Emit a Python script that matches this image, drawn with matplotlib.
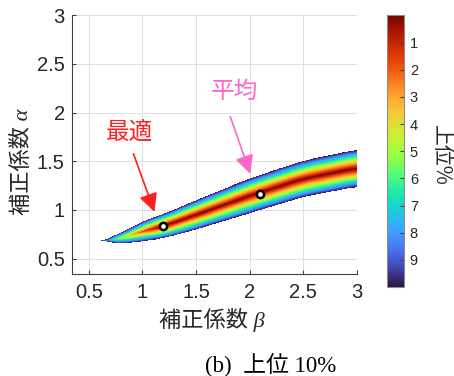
import numpy as np
import matplotlib
matplotlib.use("Agg")
import matplotlib.pyplot as plt

plt.rcParams['font.family'] = ['Liberation Sans', 'Noto Sans CJK JP', 'DejaVu Sans']
JP = ['Noto Sans CJK JP', 'DejaVu Sans']
# kanji fall back to Noto, greek letters come from the serif italic
GREEK = ['Liberation Serif', 'Noto Sans CJK JP']

# ridge of the top-10% region
RIDGE_BETA = [0.66, 0.70, 0.80, 0.90, 1.00, 1.10, 1.20, 1.50, 2.00, 2.50, 3.00]
RIDGE_ALPHA = [0.685, 0.69, 0.71, 0.745, 0.78, 0.81, 0.835, 0.95, 1.145, 1.32, 1.43]
HALF_WIDTH = [0.0, 0.03, 0.055, 0.08, 0.10, 0.115, 0.125, 0.15, 0.178, 0.186, 0.19]
RIDGE_RANK = [9.5, 7.0, 4.5, 3.0, 1.8, 0.6, 0.0, 0.0, 0.0, 0.0, 0.0]

BEST = (1.194, 0.831)
MEAN = (2.098, 1.165)

TICKS = [0.5, 1, 1.5, 2, 2.5, 3]
CBAR_TICKS = [1, 2, 3, 4, 5, 6, 7, 8, 9]
LIM = (0.34, 3.0)

RED = '#ff1f1f'
PINK = '#ff66cc'


def smooth(y, n):
    # moving average so the band edges have no kinks
    pad = np.pad(y, n // 2, mode='edge')
    return np.convolve(pad, np.ones(n) / n, mode='valid')


# rank field over the (beta, alpha) plane
b = np.linspace(0.6, 3.0, 721)
a = np.linspace(0.5, 1.75, 601)
centre = smooth(np.interp(b, RIDGE_BETA, RIDGE_ALPHA), 71)
hw = smooth(np.interp(b, RIDGE_BETA, HALF_WIDTH), 41)
rank = smooth(np.interp(b, RIDGE_BETA, RIDGE_RANK), 41)
B, A = np.meshgrid(b, a)
with np.errstate(divide='ignore', invalid='ignore'):
    v = rank + (10 - rank) * np.abs(A - centre) / hw
v[np.broadcast_to(hw <= 1e-4, v.shape)] = np.nan
v[v > 10] = np.nan
v = np.ma.masked_invalid(v)

fig = plt.figure(figsize=(4.54, 3.76), dpi=100)
ax = fig.add_axes([0.158, 0.2705, 0.628, 0.6895])
mesh = ax.pcolormesh(B, A, v, cmap='turbo_r', vmin=0, vmax=10, shading='auto')

ax.plot(*BEST, 'o', ms=5.2, mfc='white', mec='black', mew=1.8, zorder=5)
ax.plot(*MEAN, 'o', ms=5.2, mfc='white', mec='black', mew=1.8, zorder=5)

ax.set_xlim(*LIM)
ax.set_ylim(*LIM)
ax.set_xticks(TICKS, [f'{t:g}' for t in TICKS])
ax.set_yticks(TICKS, [f'{t:g}' for t in TICKS])
ax.grid(True, color='0.88', lw=0.7)
ax.set_axisbelow(True)
for s in ['top', 'right']:
    ax.spines[s].set_visible(False)
for s in ['left', 'bottom']:
    ax.spines[s].set_color('0.25')
ax.tick_params(direction='in', length=3, width=0.8, color='0.25',
               labelsize=14.5, labelcolor='0.15')
ax.tick_params(axis='x', pad=6)
ax.tick_params(axis='y', pad=5)

ax.set_xlabel('補正係数 β', family=GREEK, style='italic', fontsize=16,
              color='0.15', ha='center', va='center')
ax.xaxis.set_label_coords(0.493, -0.176)
ax.set_ylabel('補正係数 α', family=GREEK, style='italic', fontsize=16,
              color='0.15', ha='center', va='center')
ax.yaxis.set_label_coords(-0.174, 0.433)

ax.text(0.879, 1.791, '最適', family=JP, fontsize=17, color=RED,
        ha='center', va='center')
ax.annotate('', xy=(1.112, 0.98), xytext=(0.916, 1.576),
            arrowprops=dict(arrowstyle='-|>,head_length=0.8,head_width=0.4',
                            mutation_scale=14, lw=1.2, color=RED,
                            shrinkA=0, shrinkB=0))
ax.text(1.861, 2.216, '平均', family=JP, fontsize=17, color=PINK,
        ha='center', va='center')
ax.annotate('', xy=(2.006, 1.371), xytext=(1.819, 1.958),
            arrowprops=dict(arrowstyle='-|>,head_length=0.8,head_width=0.4',
                            mutation_scale=14, lw=1.2, color=PINK,
                            shrinkA=0, shrinkB=0))

cax = fig.add_axes([0.853, 0.2367, 0.0374, 0.7223])
cb = fig.colorbar(mesh, cax=cax, ticks=CBAR_TICKS)
cax.invert_yaxis()
cb.outline.set_edgecolor('0.55')
cb.outline.set_linewidth(0.8)
cax.tick_params(direction='in', length=3, width=0.8, color='0.25',
                labelsize=10.5, labelcolor='0.15', pad=4)
fig.text(441 / 454, 1 - 155 / 376, '上位%', family=JP, fontsize=15,
         color='0.15', rotation=270, ha='center', va='center')

fig.text(271 / 454, 1 - 365 / 376, '(b)  上位 10%',
         family=['Liberation Serif', 'Noto Sans CJK JP'],
         fontsize=16.5, ha='center', va='center')

fig.savefig('out.png', dpi=100)
